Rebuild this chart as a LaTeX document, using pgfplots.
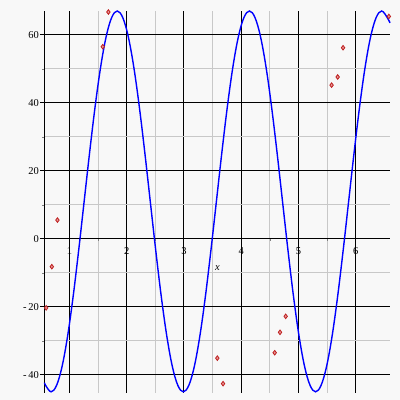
\documentclass[border=0pt]{standalone}
\usepackage{pgfplots}
\pgfplotsset{compat=1.18}
\usepackage{fontspec}
\setmainfont{Liberation Serif}
\definecolor{bg}{RGB}{248,248,248}
\definecolor{mkfill}{RGB}{230,150,150}
\definecolor{mkdraw}{RGB}{190,30,30}
\definecolor{minorgrid}{RGB}{200,200,200}
\begin{document}
\begin{tikzpicture}
\fill[bg] (0,0) rectangle (400pt,400pt);
\begin{axis}[
 at={(44.5pt,7.5pt)}, anchor=south west,
 scale only axis, width=345.5pt, height=381.5pt,
 xmin=0.565, xmax=6.6, ymin=-45.2, ymax=67,
 axis x line=middle, axis y line=left,
 x axis line style={-, line width=1.1pt},
 y axis line style={-, line width=1.1pt},
 xtick={1,2,3,4,5,6}, ytick={-40,-20,0,20,40,60},
 yticklabels={-\,40,-\,20,0,20,40,60},
 minor tick num=1,
 xmajorgrids, ymajorgrids, xminorgrids, yminorgrids,
 tick align=outside,
 major tick length=4pt, minor tick length=2pt,
 every major tick/.append style={black, line width=1pt},
 every major grid/.style={draw=black, line width=1.1pt},
 every minor grid/.style={draw=minorgrid, line width=0.9pt},
 ticklabel style={font=\fontsize{10.5}{12}\selectfont},
 xticklabel style={yshift=-1pt},
 yticklabel style={xshift=2pt},
 /pgf/number format/assume math mode=true,
 clip=false,
]
\addplot[blue, line width=1.4pt, smooth, tension=0.6] coordinates {
(0.565,-42.3)(0.58375,-43.09)(0.68,-45)(0.77625,-43.09)(0.8725,-37.50)(0.96875,-28.60)
(1.065,-17)(1.16125,-3.49)(1.2575,11)(1.35375,25.49)(1.45,39)(1.54625,50.60)
(1.6425,59.50)(1.73875,65.09)(1.835,67)(1.93125,65.09)(2.0275,59.50)(2.12375,50.60)
(2.22,39)(2.31625,25.49)(2.4125,11)(2.50875,-3.49)(2.605,-17)(2.70125,-28.60)
(2.7975,-37.50)(2.89375,-43.09)(2.99,-45)(3.08625,-43.09)(3.1825,-37.50)(3.27875,-28.60)
(3.375,-17)(3.47125,-3.49)(3.5675,11)(3.66375,25.49)(3.76,39)(3.85625,50.60)
(3.9525,59.50)(4.04875,65.09)(4.145,67)(4.24125,65.09)(4.3375,59.50)(4.43375,50.60)
(4.53,39)(4.62625,25.49)(4.7225,11)(4.81875,-3.49)(4.915,-17)(5.01125,-28.60)
(5.1075,-37.50)(5.20375,-43.09)(5.3,-45)(5.39625,-43.09)(5.4925,-37.50)(5.58875,-28.60)
(5.685,-17)(5.78125,-3.49)(5.8775,11)(5.97375,25.49)(6.07,39)(6.16625,50.60)
(6.2625,59.50)(6.35875,65.09)(6.455,67)(6.55125,65.09)(6.6,63.5)
};
\addplot[only marks, mark=diamond*, mark size=2.3pt,
  mark options={draw=mkdraw, fill=mkfill, line width=0.8pt}] coordinates {
(0.594,-20.3)(0.693,-8.2)(0.791,5.5)(1.583,56.5)(1.681,66.7)
(3.584,-35.1)(3.684,-42.6)(4.586,-33.5)(4.679,-27.5)(4.778,-22.8)
(5.58,45.2)(5.686,47.6)(5.78,56.2)(6.58,65.4)
};
\node[font=\itshape\fontsize{10.5}{12}\selectfont] at (axis cs:3.585,0) [yshift=-29.7pt] {x};
\end{axis}
\pgfresetboundingbox
\path (0,0) rectangle (400pt,400pt);
\end{tikzpicture}
\end{document}
